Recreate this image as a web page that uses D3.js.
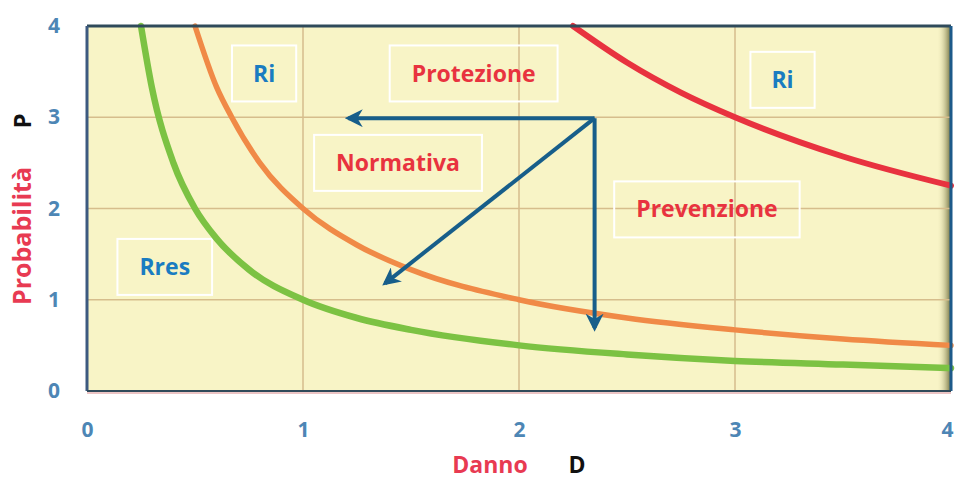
<!DOCTYPE html>
<html>
<head>
<meta charset="utf-8">
<script src="https://cdn.jsdelivr.net/npm/d3@7"></script>
<style>
  body { margin: 0; background: #fff; }
  text { font-family: "Open Sans", sans-serif; }
</style>
</head>
<body>
<svg id="chart" width="955" height="479"></svg>
<script>
// curves (Danno D, Probabilita P)
var greenD = [0.25, 0.3, 0.4, 0.5, 0.6, 0.75, 1, 1.25, 1.5, 2, 2.5, 3, 3.5, 4];
var greenP = [4, 3.33, 2.5, 2, 1.67, 1.33, 1, 0.8, 0.67, 0.5, 0.4, 0.33, 0.29, 0.25];
var orangeD = [0.5, 0.6, 0.67, 0.8, 1, 1.25, 1.5, 2, 2.5, 3, 3.5, 4];
var orangeP = [4, 3.33, 3, 2.5, 2, 1.6, 1.33, 1, 0.8, 0.67, 0.57, 0.5];
var redD = [2.25, 2.5, 2.75, 3, 3.5, 4];
var redP = [4, 3.6, 3.27, 3, 2.57, 2.25];

var xTicks = [0, 1, 2, 3, 4];
var yTicks = [0, 1, 2, 3, 4];

// labels in boxes
var boxText = ["Ri", "Protezione", "Ri", "Normativa", "Prevenzione", "Rres"];
var boxD = [0.82, 1.79, 3.22, 1.44, 2.87, 0.36];
var boxP = [3.48, 3.48, 3.41, 2.50, 1.99, 1.36];
var boxColor = ["#1a7cc1", "#e8333f", "#1a7cc1", "#e8333f", "#e8333f", "#1a7cc1"];

// arrows: start point and ends
var arrowStart = [2.35, 2.99];
var arrowEnds = [[1.21, 2.99], [1.38, 1.18], [2.35, 0.69]];

var svg = d3.select("#chart");
var margin = {top: 26, right: 4, bottom: 88, left: 87};
var width = 955 - margin.left - margin.right,
    height = 479 - margin.top - margin.bottom;

var x = d3.scaleLinear().domain([0, 4]).range([0, width]);
var y = d3.scaleLinear().domain([0, 4]).range([height, 0]);

var g = svg.append("g")
  .attr("transform", "translate(" + margin.left + "," + margin.top + ")");

var defs = svg.append("defs");
var grad = defs.append("linearGradient").attr("id", "edge")
  .attr("x1", "0").attr("x2", "1");
grad.append("stop").attr("offset", "0").attr("stop-color", "#f7f3c2").attr("stop-opacity", 0);
grad.append("stop").attr("offset", "1").attr("stop-color", "#6b6a3a");
defs.append("marker").attr("id", "head")
  .attr("viewBox", "0 0 10 10").attr("refX", 8).attr("refY", 5)
  .attr("markerWidth", 4.5).attr("markerHeight", 4.5)
  .attr("orient", "auto")
  .append("path").attr("d", "M0,0L10,5L0,10L3,5Z").attr("fill", "#175e8a");

// background
g.append("rect").attr("width", width).attr("height", height).attr("fill", "#f8f4c6");
g.append("rect").attr("x", width - 14).attr("width", 14).attr("height", height)
  .attr("fill", "url(#edge)");

// grid
g.append("g").selectAll("line.v").data(xTicks.slice(1, 4)).enter().append("line")
  .attr("x1", d => x(d)).attr("x2", d => x(d))
  .attr("y1", 0).attr("y2", height)
  .attr("stroke", "#d6bd8c").attr("stroke-width", 1.5);
g.append("g").selectAll("line.h").data(yTicks.slice(1, 4)).enter().append("line")
  .attr("x1", 0).attr("x2", width)
  .attr("y1", d => y(d)).attr("y2", d => y(d))
  .attr("stroke", "#d6bd8c").attr("stroke-width", 1.5);

// boxes with labels
var boxes = g.append("g").selectAll("g").data(boxText).enter().append("g")
  .attr("transform", (d, i) => "translate(" + x(boxD[i]) + "," + y(boxP[i]) + ")");
boxes.append("text")
  .attr("text-anchor", "middle").attr("dy", "0.35em")
  .attr("font-size", 23).attr("font-weight", "bold")
  .attr("fill", (d, i) => boxColor[i])
  .text(d => d);
boxes.each(function () {
  var t = d3.select(this).select("text").node().getBBox();
  var padX = this.__data__ === "Ri" ? 21 : 22;
  d3.select(this).insert("rect", "text")
    .attr("x", -t.width / 2 - padX).attr("y", -28)
    .attr("width", t.width + 2 * padX).attr("height", 56)
    .attr("fill", "none").attr("stroke", "#fff").attr("stroke-width", 2);
});

// curves
var line = d3.line().x(d => x(d[0])).y(d => y(d[1])).curve(d3.curveMonotoneX);
function curve(ds, ps, color, w) {
  g.append("path").datum(ds.map((d, i) => [d, ps[i]]))
    .attr("d", line).attr("fill", "none")
    .attr("stroke", color).attr("stroke-width", w)
    .attr("stroke-linecap", "round");
}
curve(greenD, greenP, "#7cc243", 6.5);
curve(orangeD, orangeP, "#f08a47", 5.5);
curve(redD, redP, "#e8323f", 6);

// arrows
g.append("g").selectAll("line").data(arrowEnds).enter().append("line")
  .attr("x1", x(arrowStart[0])).attr("y1", y(arrowStart[1]))
  .attr("x2", d => x(d[0])).attr("y2", d => y(d[1]))
  .attr("stroke", "#175e8a").attr("stroke-width", 4)
  .attr("marker-end", "url(#head)");

// frame
g.append("line").attr("x1", 0).attr("x2", width).attr("y1", 0).attr("y2", 0)
  .attr("stroke", "#2f4a5a").attr("stroke-width", 3);
g.append("line").attr("x1", 0).attr("x2", 0).attr("y1", 0).attr("y2", height)
  .attr("stroke", "#3d5a80").attr("stroke-width", 3);
g.append("line").attr("x1", width).attr("x2", width).attr("y1", 0).attr("y2", height)
  .attr("stroke", "#1d5a8a").attr("stroke-width", 3);
g.append("line").attr("x1", 0).attr("x2", width).attr("y1", height).attr("y2", height)
  .attr("stroke", "#2f4a5a").attr("stroke-width", 2);
g.append("line").attr("x1", 0).attr("x2", width).attr("y1", height + 2).attr("y2", height + 2)
  .attr("stroke", "#d98a8a").attr("stroke-width", 1);

// axes
var xAxis = g.append("g").attr("transform", "translate(0," + (height + 28) + ")")
  .call(d3.axisBottom(x).tickValues(xTicks).tickSize(0).tickFormat(d3.format("d")));
var yAxis = g.append("g").attr("transform", "translate(-24,0)")
  .call(d3.axisLeft(y).tickValues(yTicks).tickSize(0).tickFormat(d3.format("d")));
[xAxis, yAxis].forEach(function (a) {
  a.select(".domain").remove();
  a.selectAll("text").attr("font-size", 21).attr("font-weight", "bold")
    .attr("fill", "#4d86b5").attr("font-family", "'Open Sans', sans-serif");
});
// last x tick sits at the right edge of the page
xAxis.selectAll(".tick").filter(d => d === 4).select("text")
  .attr("text-anchor", "end").attr("dx", "0.1em");

// axis titles
svg.append("text").attr("transform", "translate(31,236) rotate(-90)")
  .attr("text-anchor", "middle").attr("font-size", 25).attr("font-weight", "bold")
  .attr("fill", "#e83a52").text("Probabilità");
svg.append("text").attr("transform", "translate(31,121) rotate(-90)")
  .attr("text-anchor", "middle").attr("font-size", 24).attr("font-weight", "bold")
  .attr("fill", "#111").text("P");
svg.append("text").attr("x", 490).attr("y", 473)
  .attr("text-anchor", "middle").attr("font-size", 23).attr("font-weight", "bold")
  .attr("fill", "#e83a52").text("Danno");
svg.append("text").attr("x", 577).attr("y", 473)
  .attr("text-anchor", "middle").attr("font-size", 23).attr("font-weight", "bold")
  .attr("fill", "#111").text("D");
</script>
</body>
</html>
